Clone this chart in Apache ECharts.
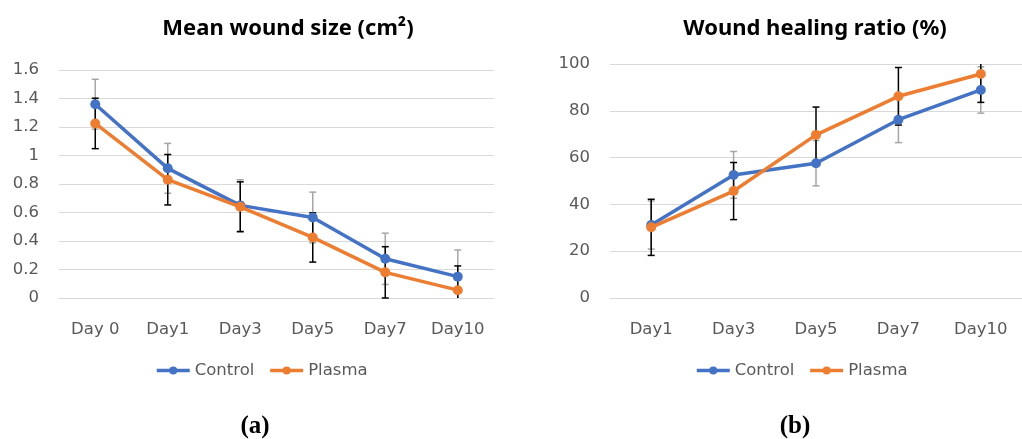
<!DOCTYPE html>
<html>
<head>
<meta charset="utf-8">
<script src="https://cdn.jsdelivr.net/npm/echarts@6/dist/echarts.min.js"></script>
<style>
html,body{margin:0;padding:0;background:#fff;}
#chart{width:1022px;height:439px;}
</style>
</head>
<body>
<div id="chart"></div>
<script>
// ---- data ----
const categoriesA = ['Day 0', 'Day1', 'Day3', 'Day5', 'Day7', 'Day10'];
const controlSize = [1.36, 0.91, 0.65, 0.565, 0.275, 0.15];
const plasmaSize = [1.225, 0.83, 0.64, 0.425, 0.18, 0.055];
const controlSizeErr = [0.175, 0.175, 0.18, 0.178, 0.18, 0.187];
const plasmaSizeErr = [0.177, 0.177, 0.175, 0.173, 0.18, 0.17];

const categoriesB = ['Day1', 'Day3', 'Day5', 'Day7', 'Day10'];
const controlRatio = [31.2, 52.6, 57.6, 76.2, 88.9];
const plasmaRatio = [30.2, 45.7, 69.7, 86.2, 95.7];
const controlRatioErr = [10.3, 10.0, 9.7, 9.8, 9.9];
const plasmaRatioErr = [12.0, 12.2, 11.9, 12.3, 12.1];

const axisA = { min: 0, max: 1.6, interval: 0.2 };
const axisB = { min: 0, max: 100, interval: 20 };

const seriesNames = ['Control', 'Plasma'];
const titleA = 'Mean wound size (cm\u00B2)';
const titleB = 'Wound healing ratio (%)';
const panelA = 'a';
const panelB = 'b';

// ---- styles ----
const BLUE = '#4472C4';
const ORANGE = '#ED7D31';
const GRID = '#D9D9D9';
const LABEL = '#595959';
const LABEL_FONT = 'DejaVu Sans';
const LABEL_SIZE = 16.5;

function errorSeries(xi, means, errs, color, ax, z) {
  return {
    type: 'custom',
    xAxisIndex: xi,
    yAxisIndex: xi,
    z: z,
    silent: true,
    encode: { x: 0, y: [1, 2] },
    data: means.map((m, i) => [i, m - errs[i], m + errs[i]]),
    renderItem: function (params, api) {
      const x = api.value(0);
      const loV = api.value(1), hiV = api.value(2);
      const lo = api.coord([x, Math.max(ax.min, loV)]);
      const hi = api.coord([x, Math.min(ax.max, hiV)]);
      const w = 3.5;
      const st = { stroke: color, lineWidth: 1.5 };
      const children = [
        { type: 'line', shape: { x1: lo[0], y1: lo[1], x2: hi[0], y2: hi[1] }, style: st }
      ];
      if (hiV <= ax.max) children.push({ type: 'line', shape: { x1: hi[0] - w, y1: hi[1], x2: hi[0] + w, y2: hi[1] }, style: st });
      if (loV >= ax.min) children.push({ type: 'line', shape: { x1: lo[0] - w, y1: lo[1], x2: lo[0] + w, y2: lo[1] }, style: st });
      return { type: 'group', children: children };
    }
  };
}

function lineSeries(name, xi, data, color, z) {
  return {
    name: name,
    type: 'line',
    xAxisIndex: xi,
    yAxisIndex: xi,
    data: data,
    z: z,
    symbol: 'circle',
    symbolSize: 10,
    showSymbol: true,
    lineStyle: { color: color, width: 3.5 },
    itemStyle: { color: color },
    emphasis: { disabled: true },
    animation: false
  };
}

function xAxis(gi, cats) {
  return {
    type: 'category',
    gridIndex: gi,
    data: cats,
    boundaryGap: true,
    axisLine: { show: true, lineStyle: { color: GRID, width: 1 } },
    axisTick: { show: false },
    axisLabel: { color: LABEL, fontFamily: LABEL_FONT, fontSize: LABEL_SIZE, margin: 23 }
  };
}

function yAxis(gi, ax) {
  return {
    type: 'value',
    gridIndex: gi,
    min: ax.min,
    max: ax.max,
    interval: ax.interval,
    axisLine: { show: false },
    axisTick: { show: false },
    splitLine: { show: true, lineStyle: { color: GRID, width: 1 } },
    axisLabel: { color: LABEL, fontFamily: LABEL_FONT, fontSize: LABEL_SIZE, margin: 20 }
  };
}

function legend(cx) {
  return {
    data: seriesNames,
    left: cx,
    top: 357,
    itemWidth: 33,
    itemHeight: 10,
    itemGap: 14,
    selectedMode: false,
    lineStyle: { width: 3.5 },
    textStyle: { color: LABEL, fontFamily: LABEL_FONT, fontSize: LABEL_SIZE }
  };
}

const chart = echarts.init(document.getElementById('chart'), null, { renderer: 'canvas' });
chart.setOption({
  animation: false,
  backgroundColor: '#fff',
  title: [
    { text: titleA, left: 283, top: 13, textAlign: 'center',
      textStyle: { fontFamily: 'Noto Sans', fontWeight: 'bold', fontSize: 22, color: '#000' } },
    { text: titleB, left: 810, top: 13, textAlign: 'center',
      textStyle: { fontFamily: 'Noto Sans', fontWeight: 'bold', fontSize: 22, color: '#000' } },
    { text: '{p|(}{b|' + panelA + '}{p|)}', left: 250, top: 409, textAlign: 'center',
      textStyle: { rich: {
        p: { fontFamily: 'Liberation Serif', fontSize: 25, color: '#000' },
        b: { fontFamily: 'Liberation Serif', fontSize: 25, fontWeight: 'bold', color: '#000' } } } },
    { text: '{p|(}{b|' + panelB + '}{p|)}', left: 790, top: 409, textAlign: 'center',
      textStyle: { rich: {
        p: { fontFamily: 'Liberation Serif', fontSize: 25, color: '#000' },
        b: { fontFamily: 'Liberation Serif', fontSize: 25, fontWeight: 'bold', color: '#000' } } } }
  ],
  legend: [legend(150), legend(690)],
  grid: [
    { left: 59, right: 528, top: 70, bottom: 141 },
    { left: 610, right: -9, top: 64, bottom: 141 }
  ],
  xAxis: [xAxis(0, categoriesA), xAxis(1, categoriesB)],
  yAxis: [yAxis(0, axisA), yAxis(1, axisB)],
  series: [
    errorSeries(0, controlSize, controlSizeErr, '#A6A6A6', axisA, 3),
    errorSeries(0, plasmaSize, plasmaSizeErr, '#000000', axisA, 4),
    lineSeries(seriesNames[0], 0, controlSize, BLUE, 5),
    lineSeries(seriesNames[1], 0, plasmaSize, ORANGE, 6),
    errorSeries(1, controlRatio, controlRatioErr, '#A6A6A6', axisB, 3),
    errorSeries(1, plasmaRatio, plasmaRatioErr, '#000000', axisB, 4),
    lineSeries(seriesNames[0], 1, controlRatio, BLUE, 5),
    lineSeries(seriesNames[1], 1, plasmaRatio, ORANGE, 6)
  ]
});
</script>
</body>
</html>
